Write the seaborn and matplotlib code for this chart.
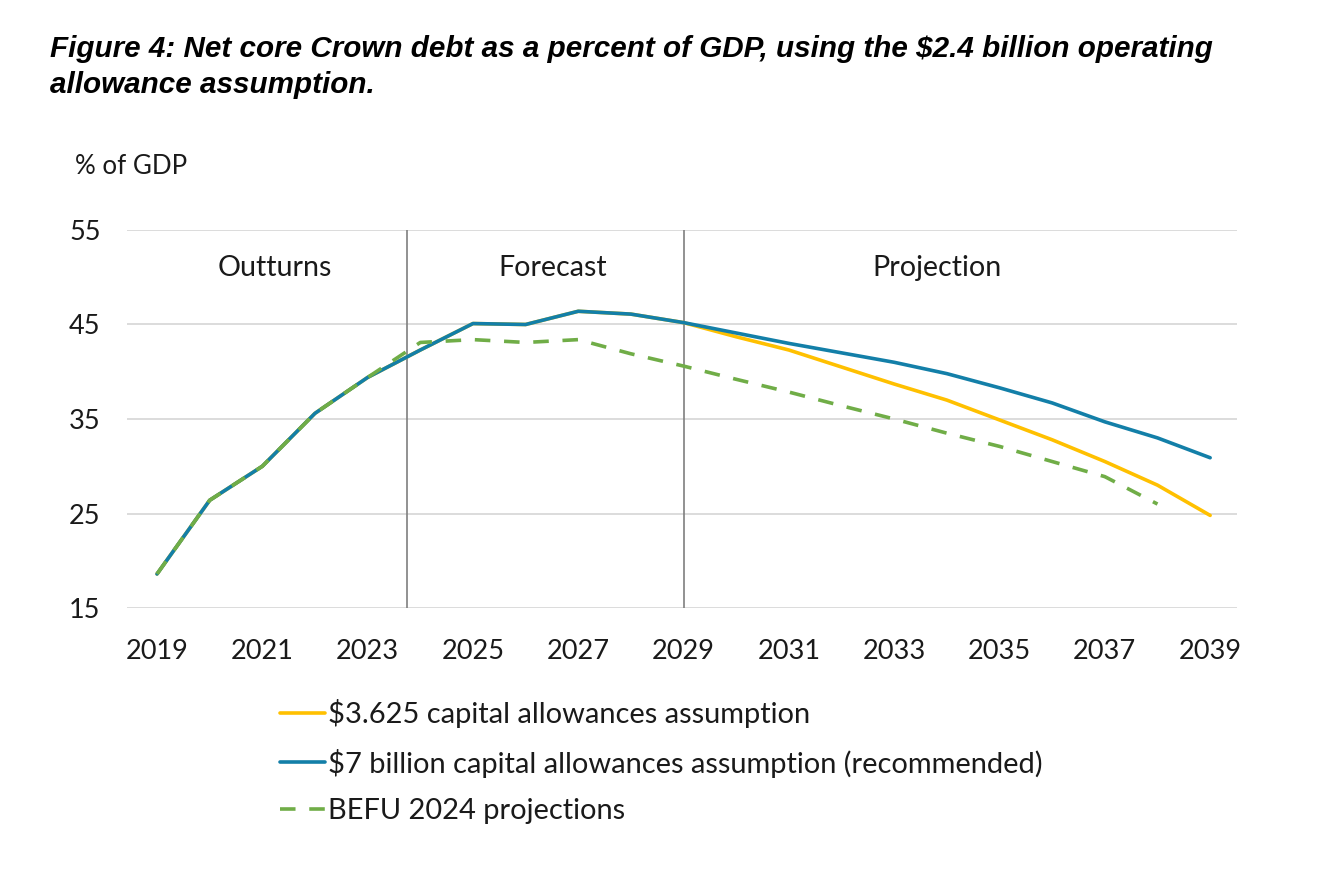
import pandas as pd
import matplotlib.pyplot as plt
import seaborn as sns

# values (% of GDP)
years = list(range(2019, 2040))
capital_3625 = [18.6, 26.4, 30.0, 35.6, 39.4, 42.3, 45.1, 45.0, 46.4, 46.1, 45.2,
                43.7, 42.3, 40.5, 38.7, 37.0, 34.9, 32.8, 30.5, 28.0, 24.8]
capital_7bn = [18.6, 26.4, 30.0, 35.6, 39.4, 42.3, 45.1, 45.0, 46.4, 46.1, 45.2,
               44.1, 43.0, 42.0, 41.0, 39.8, 38.3, 36.7, 34.7, 33.0, 30.9]
befu_2024 = [18.6, 26.4, 30.0, 35.6, 39.4, 43.1, 43.4, 43.1, 43.4, 41.9, 40.6,
             39.2, 37.85, 36.4, 35.0, 33.5, 32.1, 30.5, 28.9, 26.0, None]

series_names = ["$3.625 capital allowances assumption",
                "$7 billion capital allowances assumption (recommended)",
                "BEFU 2024 projections"]
colors = ["#FFC000", "#137FA8", "#70AD47"]

section_names = ["Outturns", "Forecast", "Projection"]
section_x = [2021.24, 2026.52, 2033.81]
dividers = [2023.75, 2029]

frames = []
for name, vals in zip(series_names, [capital_3625, capital_7bn, befu_2024]):
    frames.append(pd.DataFrame({"year": years, "value": vals, "series": name}))
df = pd.concat(frames).dropna()

sns.set_style("white")
plt.rcParams["font.family"] = ["Lato", "DejaVu Sans"]
txt = "#1a1a1a"

fig = plt.figure(figsize=(13.28, 8.69), dpi=100)
ax = fig.add_axes([127 / 1328, 1 - 608 / 869, 1110 / 1328, 378 / 869])

sns.lineplot(data=df, x="year", y="value", hue="series", style="series",
             hue_order=series_names, style_order=series_names,
             palette=dict(zip(series_names, colors)),
             dashes={series_names[0]: "", series_names[1]: "",
                     series_names[2]: (4.3, 3.8)},
             linewidth=2.6, legend=False, ax=ax)

handles = list(ax.lines[:3])

for xv in dividers:
    ax.axvline(xv, color="#7F7F7F", lw=1.2, zorder=1)

ax.set_xlim(2018.43, 2039.51)
ax.set_ylim(15, 55)
ax.set_xticks(range(2019, 2040, 2))
ax.set_yticks([15, 25, 35, 45, 55])
ax.grid(axis="y", color="#D9D9D9", lw=1.3)
ax.set_axisbelow(True)
for s in ax.spines.values():
    s.set_visible(False)
ax.tick_params(axis="both", length=0, labelsize=19.5, colors=txt)
ax.tick_params(axis="y", pad=19)
ax.tick_params(axis="x", pad=22)
ax.set_xlabel("")
ax.set_ylabel("")

for name, xv in zip(section_names, section_x):
    ax.text(xv, 51.0, name, ha="center", va="center", fontsize=20.6, color=txt)

fig.text(75 / 1328, 1 - 166 / 869, "% of GDP", ha="left", va="center",
         fontsize=18.6, color=txt)

fig.text(50 / 1328, 1 - 35 / 869,
         "Figure 4: Net core Crown debt as a percent of GDP, using the $2.4 billion operating\nallowance assumption.",
         ha="left", va="top", fontsize=21.3, fontweight="bold", fontstyle="italic",
         family=["Liberation Sans", "DejaVu Sans"], linespacing=1.36, color="black")

fig.legend(handles, series_names, loc="upper left",
           bbox_to_anchor=(280 / 1328, 1 - 699 / 869), frameon=False,
           fontsize=20.9, handlelength=1.56, handletextpad=0.1,
           labelspacing=0.71, borderpad=0, borderaxespad=0,
           labelcolor=txt)

fig.savefig("out.png", dpi=100)
